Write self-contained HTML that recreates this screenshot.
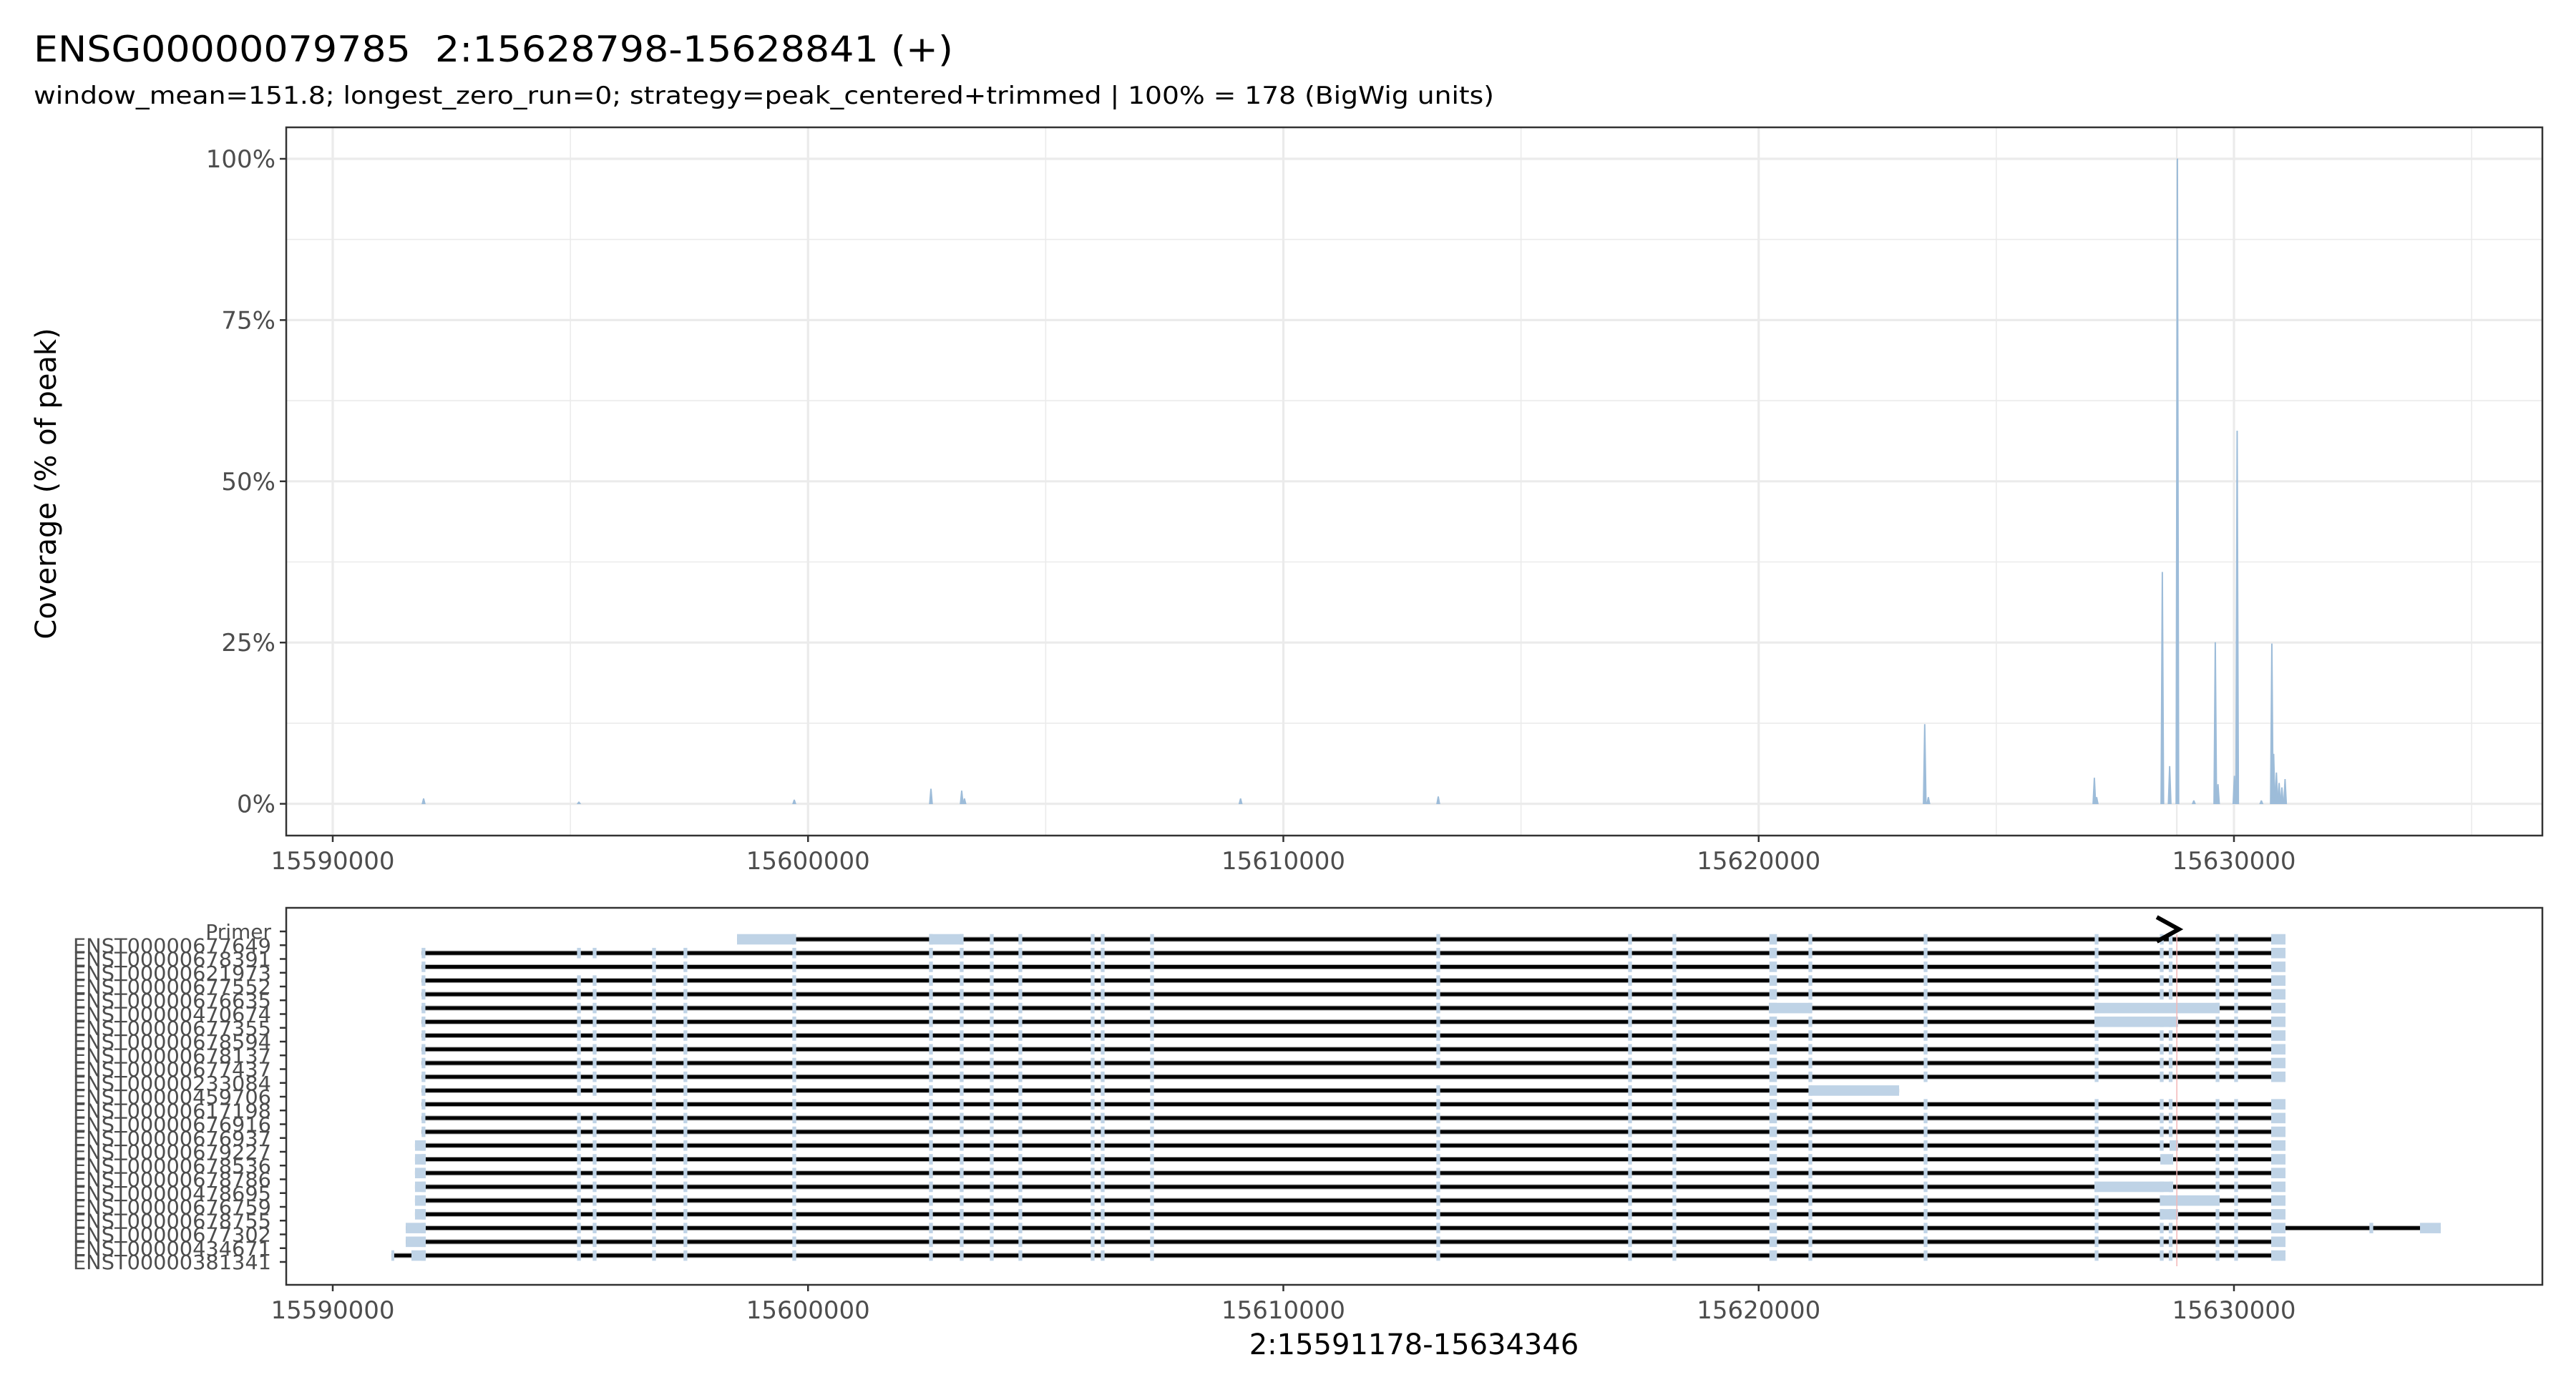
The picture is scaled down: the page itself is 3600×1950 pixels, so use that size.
<!DOCTYPE html>
<html><head><meta charset="utf-8"><style>
html,body{margin:0;padding:0;background:#fff;}
svg{display:block;font-family:"DejaVu Sans","Liberation Sans",sans-serif;}
</style></head><body>
<svg id="chart" width="3600" height="1950" viewBox="0 0 3600 1950" xmlns="http://www.w3.org/2000/svg">
<rect x="0" y="0" width="3600" height="1950" fill="#fff"/>
<text x="47" y="86" font-size="50" fill="#000" textLength="1285" lengthAdjust="spacingAndGlyphs">ENSG00000079785&#160; 2:15628798-15628841 (+)</text>
<text x="47" y="145" font-size="34" fill="#000" textLength="2041" lengthAdjust="spacingAndGlyphs">window_mean=151.8; longest_zero_run=0; strategy=peak_centered+trimmed | 100% = 178 (BigWig units)</text>
<text transform="translate(78,676) rotate(-90)" text-anchor="middle" font-size="40" fill="#000">Coverage (% of peak)</text>
<text x="1976" y="1893" text-anchor="middle" font-size="40" fill="#000">2:15591178-15634346</text>
<g id="topPanel"></g>
<g id="bottomPanel"></g>
</svg>
<script>
// ---- data ----
const xTicks = [15590000, 15600000, 15610000, 15620000, 15630000];
const xTickLabels = ["15590000", "15600000", "15610000", "15620000", "15630000"];
const xMinor = [15595000, 15605000, 15615000, 15625000, 15635000];
const yTicks = [0, 25, 50, 75, 100];
const yTickLabels = ["0%", "25%", "50%", "75%", "100%"];
const yMinor = [12.5, 37.5, 62.5, 87.5];
const peakPos = [15591912, 15595179, 15599710, 15602586, 15603233, 15603290, 15609100, 15613259,
  15623494, 15623570, 15627063, 15627111, 15628493, 15628647, 15628810, 15629155, 15629607, 15629664,
  15630010, 15630067, 15630576, 15630797, 15630835, 15630893, 15630950, 15631008, 15631075];
const peakVal = [0.8, 0.3, 0.6, 2.3, 2.0, 0.8, 0.8, 1.1,
  12.3, 1.0, 4.0, 1.0, 35.9, 5.8, 100, 0.5, 25, 3.0,
  4.3, 57.8, 0.5, 24.8, 7.7, 4.8, 3.2, 2.5, 3.8];
const primerStart = 15628798;
const primerEnd = 15628841;
const rowLabels = ["Primer","ENST00000677649","ENST00000678391","ENST00000621973","ENST00000677552","ENST00000676635","ENST00000470674","ENST00000677355","ENST00000678594","ENST00000678137","ENST00000677437","ENST00000233084","ENST00000459706","ENST00000617198","ENST00000676916","ENST00000676937","ENST00000679227","ENST00000678536","ENST00000678786","ENST00000478695","ENST00000676759","ENST00000678755","ENST00000677302","ENST00000434671","ENST00000381341"];
const commonExons = [[15591870,15591950],[15595140,15595220],[15595470,15595550],[15596720,15596800],[15597380,15597460],
  [15599670,15599750],[15602546,15602626],[15603193,15603273],[15603825,15603905],[15604427,15604507],[15605948,15606028],
  [15606159,15606239],[15607198,15607278],[15613219,15613299],[15617254,15617334],[15618187,15618267],[15620225,15620385],
  [15621048,15621128],[15623472,15623552],[15627070,15627150],[15628440,15628520],[15628628,15628708],[15629614,15629694],
  [15630005,15630085],[15630783,15631084]];
const rowStart = [15598506,15591870,15591870,15591870,15591870,15591870,15591870,15591870,15591870,15591870,15591870,15591870,15591870,15591870,15591870,15591731,15591731,15591731,15591731,15591731,15591731,15591536,15591536,15591234];
const rowEnd = [15631084,15631084,15631084,15631084,15631084,15631084,15631084,15631084,15631084,15631084,15631084,15622955,15631084,15631084,15631084,15631084,15631084,15631084,15631084,15631084,15631084,15634351,15631084,15631084];
const rowSkip = [[0,1,2,3,4],[],[1,2],[],[],[20,21],[],[],[],[],[13],[19,20,21,22,23,24],[1,2],[],[],[21],[20,21],[20,21],[],[],[],[],[],[]];
const rowBlocks = [[[15598506,15599710],[15602556,15603263]],[],[],[],[],[[15620214,15621117],[15627064,15629699]],[[15627064,15628826]],[],[],[],[],[[15621088,15622955]],[],[],[],
  [[15591731,15591957],[15628645,15628826]],[[15591731,15591957],[15628450,15628721]],[[15591731,15591957]],[[15591731,15591957],[15627064,15628721]],[[15591731,15591957],[15628450,15629699]],[[15591731,15591957],[15628450,15628826]],
  [[15591536,15591957],[15632850,15632930],[15633914,15634351]],[[15591536,15591957]],[[15591234,15591280],[15591656,15591957]]];

// ---- scales ----
const NS = "http://www.w3.org/2000/svg";
const PL = 400, PR = 3553;
const X = g => 465 + (g - 15590000) * 0.066425;
const T0 = 178, T1 = 1168;
const Y = v => 1123.6 - v * 9.016;
const B0 = 1269, B1 = 1796;
function mk(tag, attrs, parent) { const e = document.createElementNS(NS, tag); for (const k in attrs) e.setAttribute(k, attrs[k]); parent.appendChild(e); return e; }

// ---- top panel ----
const topG = document.getElementById('topPanel');
const tp = mk('rect', {x: PL, y: T0, width: PR - PL, height: T1 - T0, fill: '#fff'}, topG);


yMinor.forEach(v => { const l = mk('line', {x1: PL, x2: PR, y1: Y(v), y2: Y(v), stroke: '#ebebeb', 'stroke-width': 1.6}, topG);
  
   });
xMinor.forEach(g => { const l = mk('line', {x1: X(g), x2: X(g), y1: T0, y2: T1, stroke: '#ebebeb', 'stroke-width': 1.6}, topG);
  
   });
yTicks.forEach((v, i) => {
  const l = mk('line', {x1: PL, x2: PR, y1: Y(v), y2: Y(v), stroke: '#ebebeb', 'stroke-width': 3.2}, topG);
  
  
  const t = mk('line', {x1: PL - 9, x2: PL, y1: Y(v), y2: Y(v), stroke: '#333', 'stroke-width': 2.5}, topG);
  
  
  const tx = mk('text', {x: PL - 15, y: Y(v) + 12, 'text-anchor': 'end', 'font-size': 34, fill: '#4d4d4d'}, topG);
  tx.textContent = yTickLabels[i];
  
  
});
xTicks.forEach((g, i) => {
  const l = mk('line', {x1: X(g), x2: X(g), y1: T0, y2: T1, stroke: '#ebebeb', 'stroke-width': 3.2}, topG);
  
  
  const t = mk('line', {x1: X(g), x2: X(g), y1: T1, y2: T1 + 9, stroke: '#333', 'stroke-width': 2.5}, topG);
  
  
  const tx = mk('text', {x: X(g), y: 1215, 'text-anchor': 'middle', 'font-size': 34, fill: '#4d4d4d'}, topG);
  tx.textContent = xTickLabels[i];
  
  
});
const pl = mk('line', {x1: X(primerStart), x2: X(primerStart), y1: T0, y2: T1, stroke: '#e8e8e8', 'stroke-width': 2}, topG);


peakPos.forEach((g, i) => {
  const hw = 35;
  const d = `M${X(g - hw)},${Y(0)} L${X(g - hw * 0.25)},${Y(peakVal[i])} L${X(g + hw * 0.25)},${Y(peakVal[i])} L${X(g + hw)},${Y(0)} Z`;
  const p = mk('path', {d: d, fill: '#9dbcd9', stroke: '#9dbcd9', 'stroke-width': 0.8}, topG);
  
  
});
const tb = mk('rect', {x: PL, y: T0, width: PR - PL, height: T1 - T0, fill: 'none', stroke: '#333', 'stroke-width': 2.5}, topG);



// ---- bottom panel ----
const bot = document.getElementById('bottomPanel');
const bp = mk('rect', {x: PL, y: B0, width: PR - PL, height: B1 - B0, fill: '#fff'}, bot);


rowLabels.forEach((lab, i) => {
  const y = 1302 + i * 19.25;
  const t = mk('line', {x1: PL - 9, x2: PL, y1: y, y2: y, stroke: '#333', 'stroke-width': 2.5}, bot);
  
  
  const tx = mk('text', {x: 379, y: y + 10, 'text-anchor': 'end', 'font-size': 28, fill: '#4d4d4d'}, bot);
  if (i > 0) { tx.setAttribute('textLength', 277); tx.setAttribute('lengthAdjust', 'spacingAndGlyphs'); }
  tx.textContent = lab;
  
  
});
rowStart.forEach((s, i) => {
  const y = 1313 + i * 19.22;
  const g = mk('g', {}, bot);
  
  
  const ln = mk('line', {x1: X(s), x2: X(rowEnd[i]), y1: y, y2: y, stroke: '#aaa', 'stroke-width': 7}, g);
  
  
  const ln2 = mk('line', {x1: X(s), x2: X(rowEnd[i]), y1: y, y2: y, stroke: '#000', 'stroke-width': 5}, g);
  
  
  const ex = commonExons.filter((e, k) => !rowSkip[i].includes(k) && e[0] >= s - 1 && e[1] <= rowEnd[i] + 1).concat(rowBlocks[i]);
  ex.forEach(e => {
    const r = mk('rect', {x: X(e[0]), y: y - 7.3, width: Math.max(X(e[1]) - X(e[0]), 4), height: 14.6, fill: '#bfd3e6'}, g);
    
    
  });
});
const pv = mk('line', {x1: X(primerStart), x2: X(primerStart), y1: 1306, y2: 1770, stroke: '#f4b6b6', 'stroke-width': 1.5}, bot);


const ax = X(primerStart) - 28, axe = X(primerEnd);
const arrow = mk('path', {d: `M${ax},1282 L${axe},1299 L${ax},1316`, fill: 'none', stroke: '#000', 'stroke-width': 6}, bot);


xTicks.forEach((g, i) => {
  const t = mk('line', {x1: X(g), x2: X(g), y1: B1, y2: B1 + 9, stroke: '#333', 'stroke-width': 2.5}, bot);
  
  
  const tx = mk('text', {x: X(g), y: 1843, 'text-anchor': 'middle', 'font-size': 34, fill: '#4d4d4d'}, bot);
  tx.textContent = xTickLabels[i];
  
  
});
const bb = mk('rect', {x: PL, y: B0, width: PR - PL, height: B1 - B0, fill: 'none', stroke: '#333', 'stroke-width': 2.5}, bot);


</script>
</body></html>
